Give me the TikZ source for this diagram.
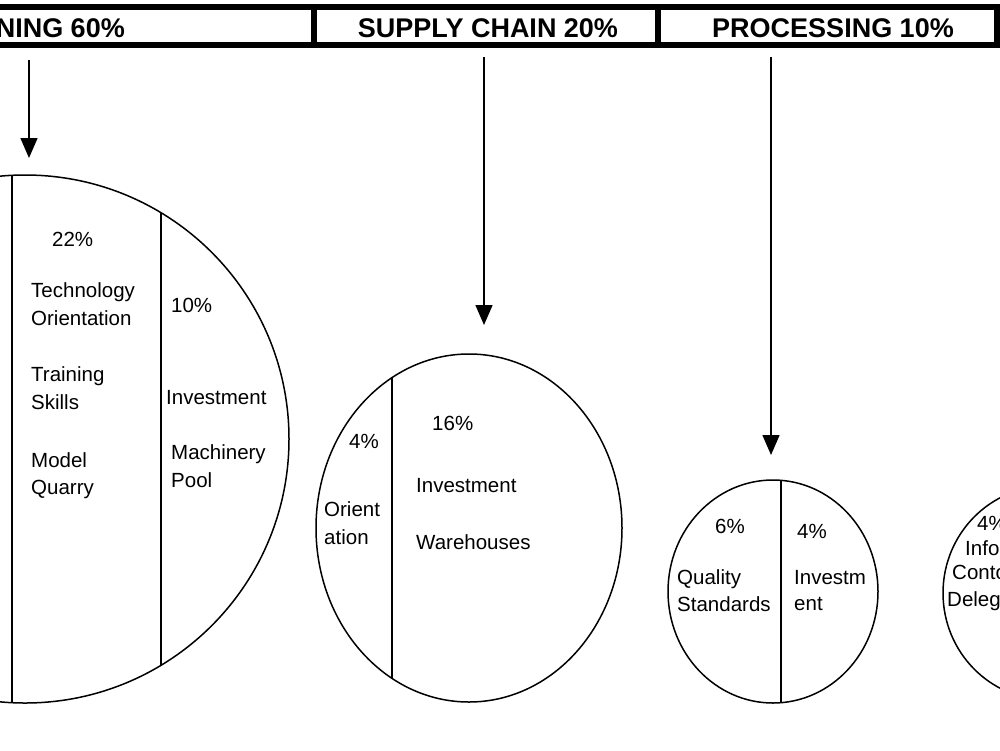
\documentclass[tikz,border=0pt]{standalone}
\usepackage{fontspec}
\setmainfont{Liberation Sans}
\usetikzlibrary{arrows.meta,shapes.geometric}
\begin{document}
\begin{tikzpicture}[x=1pt,y=-1pt,
  hdrbox/.style={draw,line width=6pt,rectangle,minimum height=38pt,inner sep=0pt},
  hdrtext/.style={font=\fontsize{27}{30}\selectfont\bfseries,inner sep=0pt},
  oval/.style={draw,line width=1.5pt,ellipse,inner sep=0pt},
  divider/.style={line width=1.3pt},
  lbl/.style={font=\fontsize{20.5}{28}\selectfont,inner sep=0pt,anchor=base west},
  arr/.style={line width=1.5pt,-{Triangle[length=20pt,width=17pt]}}]
\useasboundingbox (0,0) rectangle (1000,750);
\clip (0,0) rectangle (1000,750);
% header boxes
\node[hdrbox,minimum width=354pt] (hdr1) at (137,26) {};
\node[hdrbox,minimum width=344pt] (hdr2) at (486,26) {};
\node[hdrbox,minimum width=339pt] (hdr3) at (827.5,26) {};
\node[hdrtext,anchor=base east] (t1) at (125,37) {NING 60\%};
\node[hdrtext,anchor=base] (t2) at (488,37) {SUPPLY CHAIN 20\%};
\node[hdrtext,anchor=base] (t3) at (833,37) {PROCESSING 10\%};
% ovals
\node[oval,minimum width=528pt,minimum height=528pt] (c1) at (25,439) {};
\node[oval,minimum width=306pt,minimum height=348pt] (c2) at (469,528) {};
\node[oval,minimum width=210pt,minimum height=223pt] (c3) at (773,591.5) {};
\node[oval,minimum width=210pt,minimum height=214pt] (c4) at (1048,593) {};
% dividers
\coordinate (d1a) at (12,175.3); \coordinate (d1b) at (12,702.7);
\coordinate (d2a) at (161,212.7); \coordinate (d2b) at (161,665.3);
\coordinate (d3a) at (392,377.6); \coordinate (d3b) at (392,678.4);
\coordinate (d4a) at (781,480.3); \coordinate (d4b) at (781,702.7);
\draw[divider] (d1a) -- (d1b);
\draw[divider] (d2a) -- (d2b);
\draw[divider] (d3a) -- (d3b);
\draw[divider] (d4a) -- (d4b);
% arrows
\coordinate (a1s) at (29,60);  \coordinate (a1e) at (29,158);
\coordinate (a2s) at (484,57); \coordinate (a2e) at (484,325);
\coordinate (a3s) at (771,57); \coordinate (a3e) at (771,455);
\draw[arr] (a1s) -- (a1e);
\draw[arr] (a2s) -- (a2e);
\draw[arr] (a3s) -- (a3e);
% labels circle 1
\node[lbl] (l1) at (52,246) {22\%};
\node[lbl] (l2) at (31,297) {Technology};
\node[lbl] (l3) at (31,325) {Orientation};
\node[lbl] (l4) at (31,381) {Training};
\node[lbl] (l5) at (31,409) {Skills};
\node[lbl] (l6) at (31,467) {Model};
\node[lbl] (l7) at (31,494) {Quarry};
\node[lbl] (l8) at (171,312) {10\%};
\node[lbl] (l9) at (166,404) {Investment};
\node[lbl] (l10) at (171,459) {Machinery};
\node[lbl] (l11) at (171,487) {Pool};
% labels oval 2
\node[lbl] (m1) at (349,448) {4\%};
\node[lbl] (m2) at (432,430) {16\%};
\node[lbl] (m3) at (416,492) {Investment};
\node[lbl] (m4) at (324,516) {Orient};
\node[lbl] (m5) at (324,544) {ation};
\node[lbl] (m6) at (416,549) {Warehouses};
% labels oval 3
\node[lbl] (n1) at (715,533) {6\%};
\node[lbl] (n2) at (797,538) {4\%};
\node[lbl] (n3) at (677,584) {Quality};
\node[lbl] (n4) at (677,611) {Standards};
\node[lbl] (n5) at (794,584) {Investm};
\node[lbl] (n6) at (794,610) {ent};
% labels oval 4
\node[lbl] (o1) at (977,530) {4\%};
\node[lbl] (o2) at (965,555) {Infor};
\node[lbl] (o3) at (952,579) {Conto};
\node[lbl] (o4) at (947,606) {Deleg};
\end{tikzpicture}
\end{document}
